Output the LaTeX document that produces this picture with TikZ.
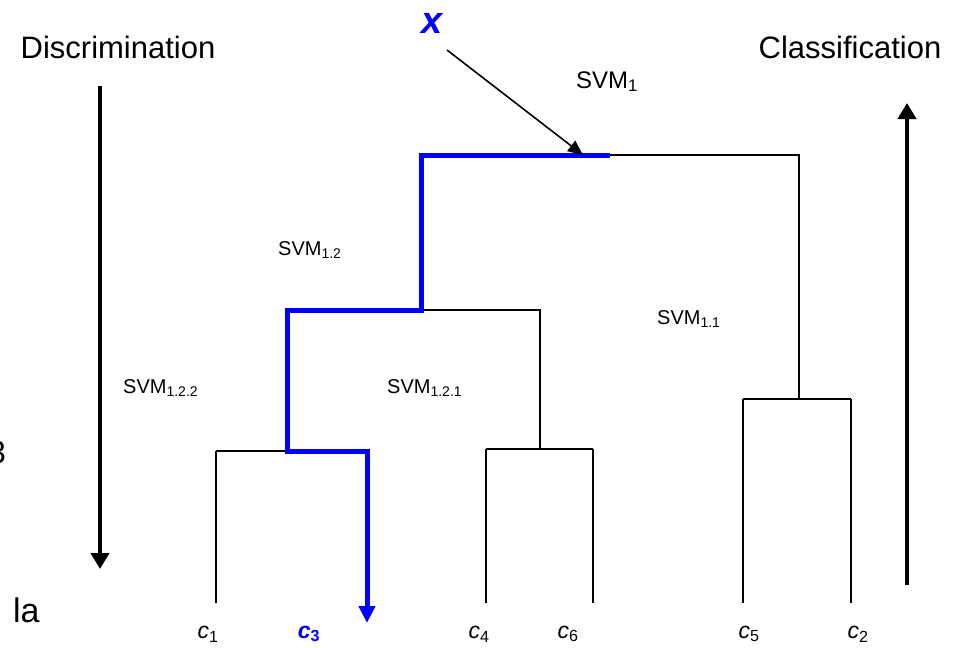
\documentclass[tikz,border=0pt]{standalone}
\usepackage{fontspec}
\setmainfont{Liberation Sans}
\usetikzlibrary{arrows.meta}
\definecolor{pathblue}{RGB}{0,0,255}
\newcommand{\sub}[1]{\textsubscript{\upshape #1}}
\tikzset{
  branch/.style={draw=black, line width=2pt},
  chosen/.style={draw=pathblue, line width=5pt},
  bigarrow/.style={draw=black, line width=4pt, -{Triangle[length=16pt,width=18pt]}},
  inarrow/.style={draw=black, line width=1.6pt, -{Triangle[length=15pt,width=13pt]}},
  leaflabel/.style={inner sep=0pt, font=\fontsize{23}{26}\selectfont\itshape},
  svm/.style={inner sep=0pt, anchor=base west, font=\fontsize{20}{24}\selectfont},
  heading/.style={inner sep=0pt, anchor=base, font=\fontsize{31}{36}\selectfont},
}
\begin{document}
\begin{tikzpicture}[x=1pt, y=-1pt]
  \clip (0,0) rectangle (962,648);
  \useasboundingbox (0,0) rectangle (962,648);

  % headings and direction arrows
  \node[heading] (disc) at (118,58) {Discrimination};
  \node[heading] (clas) at (850,58) {Classification};
  \coordinate (dtop) at (100,86);
  \coordinate (dbot) at (100,569);
  \coordinate (cbot) at (907,585);
  \coordinate (ctop) at (907,103);
  \draw[bigarrow] (dtop) -- (dbot);
  \draw[bigarrow] (cbot) -- (ctop);

  % stray fragments of text at the left border
  \node[inner sep=0pt, anchor=base east, font=\fontsize{32}{36}\selectfont] (frag) at (6,463) {3};
  \node[inner sep=0pt, anchor=base west, font=\fontsize{34}{38}\selectfont] (la) at (13,622) {la};

  % junction points of the tree
  \coordinate (r0) at (421,155);
  \coordinate (rm) at (610,155);
  \coordinate (r1) at (799,155);
  \coordinate (a1) at (799,399);
  \coordinate (a1l) at (743,399);
  \coordinate (a1r) at (851,399);
  \coordinate (b0) at (287,310);
  \coordinate (bm) at (421,310);
  \coordinate (b1) at (540,310);
  \coordinate (e1) at (540,449);
  \coordinate (e1l) at (486,449);
  \coordinate (e1r) at (593,449);
  \coordinate (d0) at (216,451);
  \coordinate (dm) at (287,451);
  \coordinate (d1) at (367,451);

  % leaves
  \coordinate (l1) at (216,603);
  \coordinate (l3a) at (367,600);
  \coordinate (l3) at (367,623);
  \coordinate (l4) at (486,603);
  \coordinate (l6) at (593,603);
  \coordinate (l5) at (743,603);
  \coordinate (l2) at (851,603);

  % black branches
  \draw[branch] (rm) -- (r1) -- (a1);
  \draw[branch] (a1l) -- (a1r);
  \draw[branch] (a1l) -- (l5);
  \draw[branch] (a1r) -- (l2);
  \draw[branch] (bm) -- (b1) -- (e1);
  \draw[branch] (e1l) -- (e1r);
  \draw[branch] (e1l) -- (l4);
  \draw[branch] (e1r) -- (l6);
  \draw[branch] (d0) -- (dm);
  \draw[branch] (d0) -- (l1);

  % highlighted decision path
  \draw[chosen, line join=miter] (rm) -- (r0) -- (bm) -- (b0) -- (dm) -- (d1) -- (l3a);
  \draw[draw=pathblue, line width=5pt, -{Triangle[length=17pt,width=16pt]}] (l3a) -- (l3);

  % input
  \node[inner sep=0pt, text=pathblue, font=\fontsize{38}{40}\selectfont\bfseries\itshape] (x) at (432,23) {x};
  \coordinate (xs) at (447,50);
  \coordinate (xt) at (583,155);
  \draw[inarrow] (xs) -- (xt);

  % classifier labels
  \node[svm, font=\fontsize{24}{28}\selectfont] (s1) at (576,88) {SVM\sub{1}};
  \node[svm] (s12) at (278,255) {SVM\sub{1.2}};
  \node[svm] (s11) at (657,324) {SVM\sub{1.1}};
  \node[svm] (s122) at (123,393) {SVM\sub{1.2.2}};
  \node[svm] (s121) at (387,393) {SVM\sub{1.2.1}};

  % class labels
  \node[leaflabel] (c1) at (208,634) {c\sub{1}};
  \node[leaflabel, text=pathblue, font=\fontsize{23}{26}\selectfont\bfseries\itshape] (c3) at (309,634) {c\sub{3}};
  \node[leaflabel] (c4) at (479,634) {c\sub{4}};
  \node[leaflabel] (c6) at (568,634) {c\sub{6}};
  \node[leaflabel] (c5) at (749,634) {c\sub{5}};
  \node[leaflabel] (c2) at (858,634) {c\sub{2}};
\end{tikzpicture}
\end{document}
